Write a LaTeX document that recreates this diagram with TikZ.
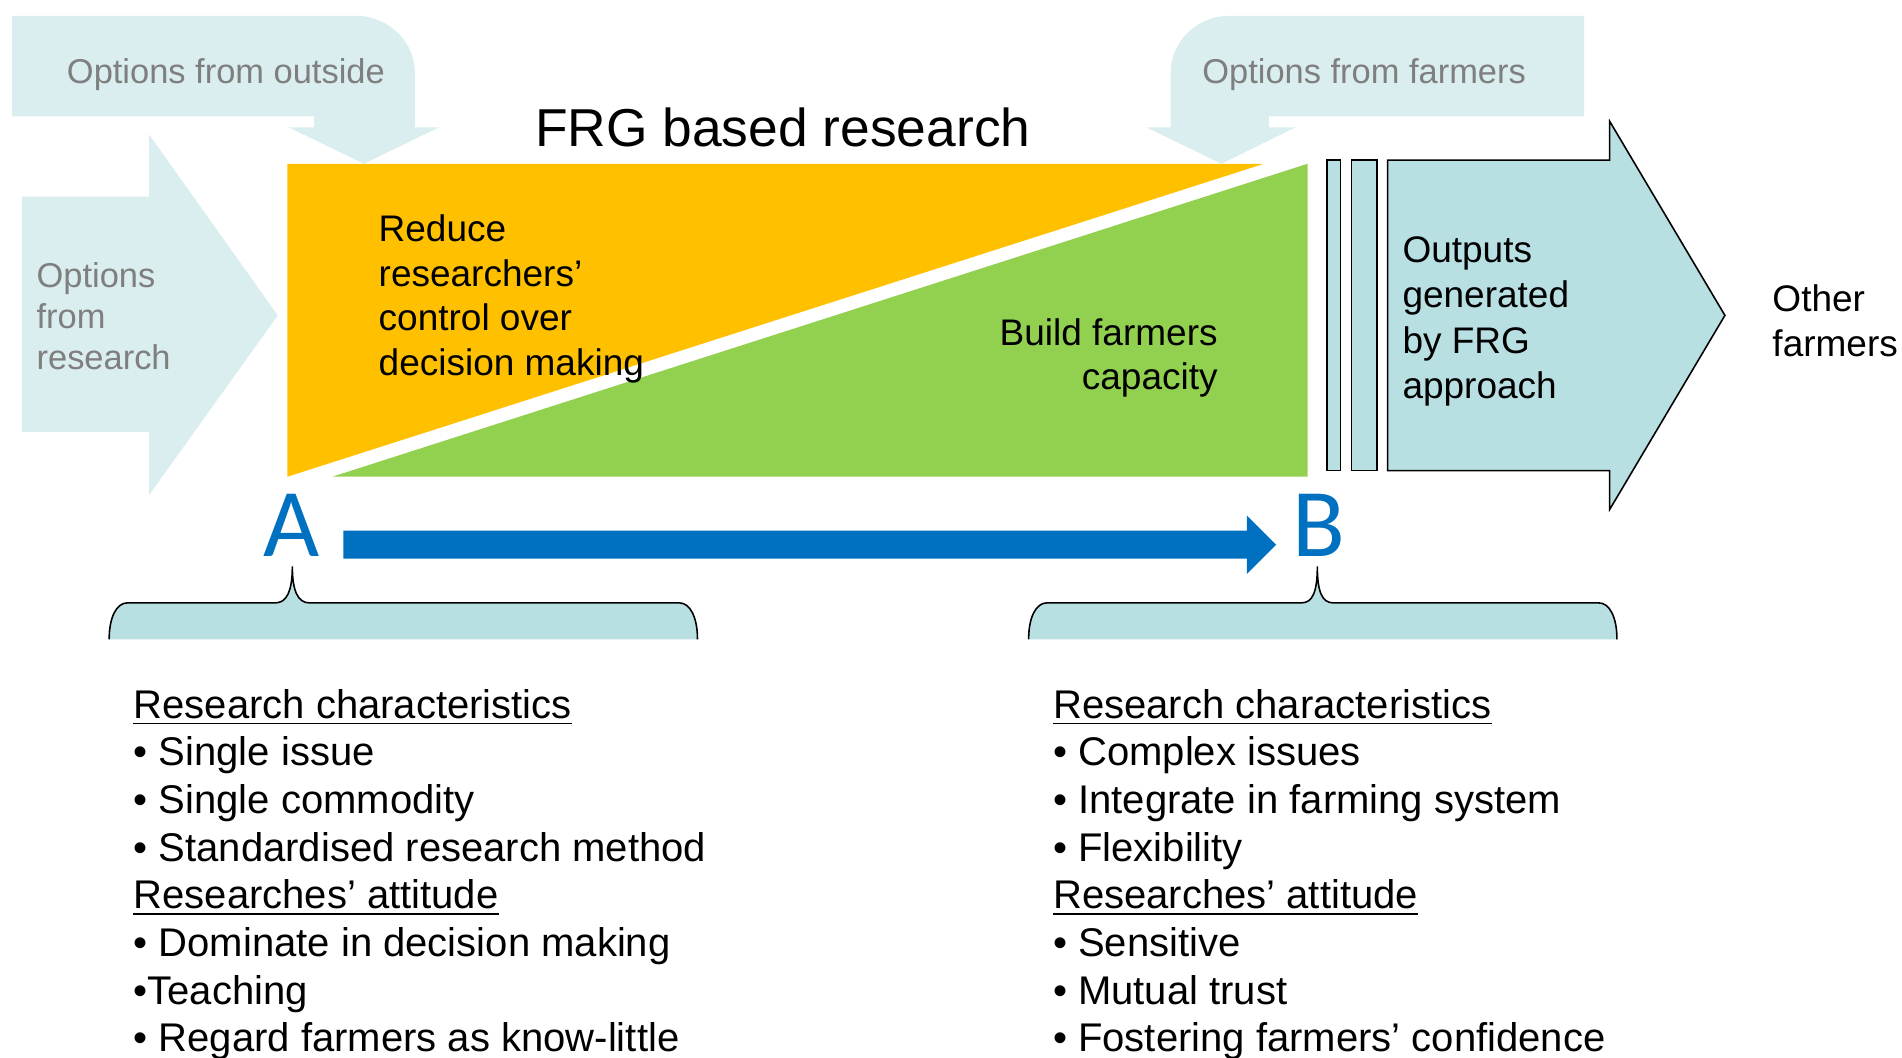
\documentclass[tikz,border=0pt]{standalone}
\usepackage{fontspec}
\setmainfont{Liberation Sans}
\newfontfamily\calib{Carlito}
\definecolor{optlight}{HTML}{DAEDEF}
\definecolor{outfill}{HTML}{B8E0E3}
\definecolor{frgorange}{HTML}{FFC000}
\definecolor{frggreen}{HTML}{92D050}
\definecolor{frgblue}{HTML}{0070C0}
\definecolor{optgray}{HTML}{7F7F7F}
\tikzset{
  txt/.style={inner sep=0pt, anchor=base west, font=\fontsize{30.5}{36.6}\selectfont},
  rtxt/.style={txt, anchor=base east},
  gtxt/.style={inner sep=0pt, anchor=base west, text=optgray, font=\fontsize{28.4}{34}\selectfont},
  lst/.style={inner sep=0pt, anchor=base west, font=\fontsize{33}{39.3}\selectfont},
  ttl/.style={inner sep=0pt, anchor=base west, font=\fontsize{44}{52}\selectfont},
  letter/.style={inner sep=0pt, anchor=base, text=frgblue, font=\calib\fontsize{80}{96}\selectfont},
  outl/.style={draw=black, line width=1.3pt, fill=outfill},
  brace/.style={draw=black, line width=1.3pt},
  uline/.style={line width=1.5pt}
}
\begin{document}
\begin{tikzpicture}[x=1pt,y=-1pt]
\useasboundingbox (0,0) rectangle (1568,872);

% options from outside (bent arrow)
\fill[optlight] (10,13) -- (293,13) .. controls (320,13) and (342,34) .. (342,60)
  -- (342,105) -- (362,105) -- (300,135) -- (238,105) -- (259,105) -- (259,96) -- (10,96) -- cycle;
% options from farmers (bent arrow)
\fill[optlight] (1306,13) -- (1014,13) .. controls (987,13) and (965,34) .. (965,60)
  -- (965,105) -- (945,105) -- (1007,135) -- (1068,105) -- (1046,105) -- (1046,96) -- (1306,96) -- cycle;
% options from research (right arrow)
\fill[optlight] (18,162) -- (123,162) -- (123,111) -- (229,260) -- (123,408) -- (123,356) -- (18,356) -- cycle;

% orange and green triangles
\fill[frgorange] (237,135) -- (1042,135) -- (237,393) -- cycle;
\fill[frggreen] (274,393) -- (1078,393) -- (1078,135) -- cycle;

% output bars and arrow
\draw[outl] (1094,132) rectangle (1105,388);
\draw[outl] (1114,132) rectangle (1135,388);
\draw[outl] (1144,132) -- (1327,132) -- (1327,100) -- (1422,260) -- (1327,420) -- (1327,388) -- (1144,388) -- cycle;

% texts on top
\node[gtxt] (oout) at (55,69) {Options from outside};
\node[gtxt] (ofar) at (991,69) {Options from farmers};
\node[ttl] (title) at (441,120.5) {FRG based research};

\node[gtxt] (ores1) at (30,237) {Options};
\node[gtxt] (ores2) at (30,271) {from};
\node[gtxt] (ores3) at (30,305) {research};

\node[txt] (red1) at (312,199.5) {Reduce};
\node[txt] (red2) at (312,236.1) {researchers’};
\node[txt] (red3) at (312,272.7) {control over};
\node[txt] (red4) at (312,309.3) {decision making};

\node[rtxt] (bld1) at (1004,284.5) {Build farmers};
\node[rtxt] (bld2) at (1004,321.5) {capacity};

\node[txt] (out1) at (1156,216.5) {Outputs};
\node[txt] (out2) at (1156,253.8) {generated};
\node[txt] (out3) at (1156,291.1) {by FRG};
\node[txt] (out4) at (1156,328.4) {approach};

\node[txt] (oth1) at (1461,256.5) {Other};
\node[txt] (oth2) at (1461,294) {farmers};

% A, B and blue arrow
\node[letter] (A) at (240,459) {A};
\node[letter] (B) at (1087,459) {B};
\coordinate (arS) at (283,449);
\coordinate (arE) at (1052,449);
\fill[frgblue] (arS) ++(0,-11.5) -- (1028,437.5) -- (1028,425) -- (arE) -- (1028,473) -- (1028,460.5) -- (283,460.5) -- cycle;

% braces
\fill[outfill] (90,527) .. controls (90,509) and (96,497) .. (105,497) -- (227,497)
  .. controls (236,497) and (241,488) .. (241,467) .. controls (241,488) and (246,497) .. (255,497)
  -- (560,497) .. controls (569,497) and (575,509) .. (575,527) -- cycle;
\draw[brace] (90,527) .. controls (90,509) and (96,497) .. (105,497) -- (227,497)
  .. controls (236,497) and (241,488) .. (241,467) .. controls (241,488) and (246,497) .. (255,497)
  -- (560,497) .. controls (569,497) and (575,509) .. (575,527);
\fill[outfill] (848,527) .. controls (848,509) and (854,497) .. (863,497) -- (1073,497)
  .. controls (1082,497) and (1086,488) .. (1086,467) .. controls (1086,488) and (1090,497) .. (1099,497)
  -- (1318,497) .. controls (1327,497) and (1333,509) .. (1333,527) -- cycle;
\draw[brace] (848,527) .. controls (848,509) and (854,497) .. (863,497) -- (1073,497)
  .. controls (1082,497) and (1086,488) .. (1086,467) .. controls (1086,488) and (1090,497) .. (1099,497)
  -- (1318,497) .. controls (1327,497) and (1333,509) .. (1333,527);

% left list
\node[lst] (l1) at (110,592) {Research characteristics};
\node[lst] (l2) at (110,631.3) {• Single issue};
\node[lst] (l3) at (110,670.6) {• Single commodity};
\node[lst] (l4) at (110,709.9) {• Standardised research method};
\node[lst] (l5) at (110,749.2) {Researches’ attitude};
\node[lst] (l6) at (110,788.5) {• Dominate in decision making};
\node[lst] (l7) at (110,827.8) {•Teaching};
\node[lst] (l8) at (110,867.1) {• Regard farmers as know-little};
% right list
\node[lst] (r1) at (868,592) {Research characteristics};
\node[lst] (r2) at (868,631.3) {• Complex issues};
\node[lst] (r3) at (868,670.6) {• Integrate in farming system};
\node[lst] (r4) at (868,709.9) {• Flexibility};
\node[lst] (r5) at (868,749.2) {Researches’ attitude};
\node[lst] (r6) at (868,788.5) {• Sensitive};
\node[lst] (r7) at (868,827.8) {• Mutual trust};
\node[lst] (r8) at (868,867.1) {• Fostering farmers’ confidence};

% underlines
\foreach \n in {l1,l5,r1,r5}{
  \draw[uline] ([yshift=-4.5pt]\n.base west) -- ([yshift=-4.5pt]\n.base east);
}
\end{tikzpicture}
\end{document}
